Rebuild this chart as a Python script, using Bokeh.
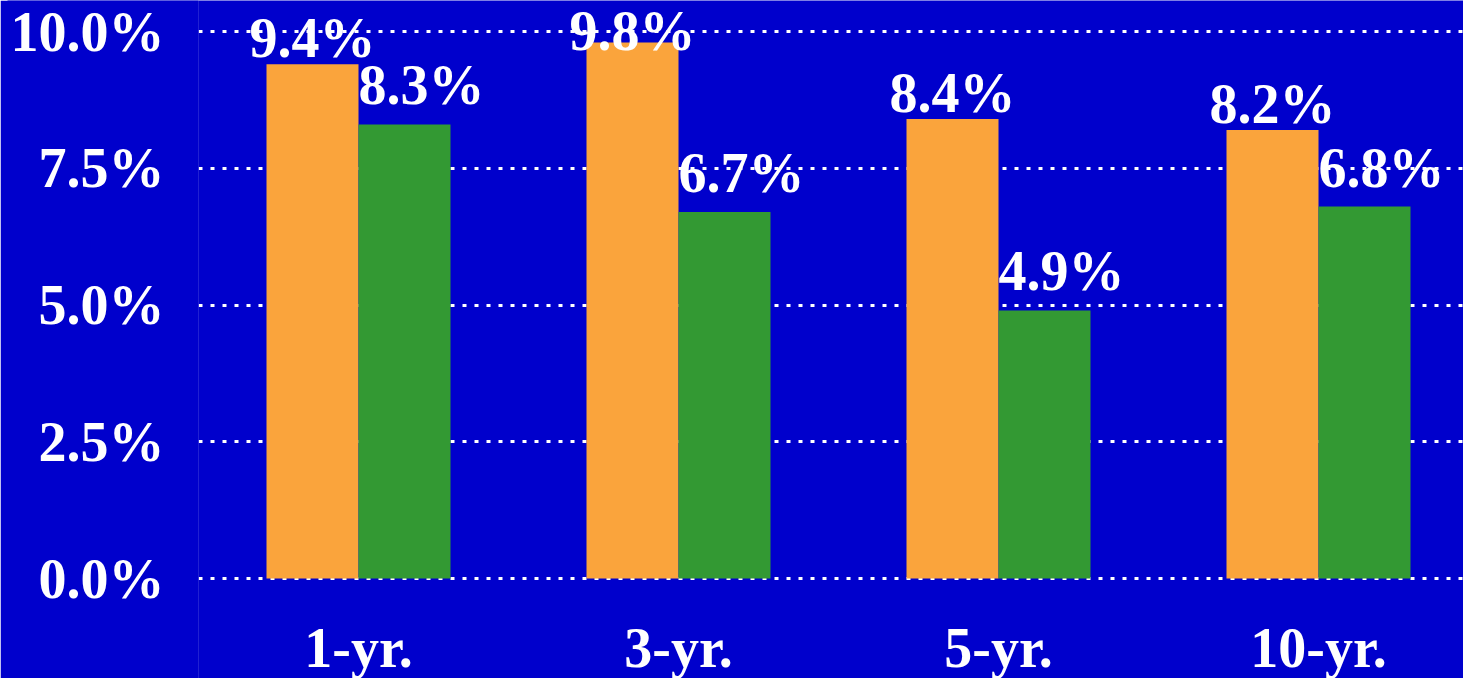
from bokeh.plotting import figure
from bokeh.models import ColumnDataSource, FixedTicker, Range1d
from bokeh.core.properties import value
from bokeh.embed import file_html
from bokeh.resources import INLINE

# ---- data ----
periods = ["1-yr.", "3-yr.", "5-yr.", "10-yr."]
series_orange = [9.4, 9.8, 8.4, 8.2]
series_green = [8.3, 6.7, 4.9, 6.8]
y_ticks = [0.0, 2.5, 5.0, 7.5, 10.0]
y_tick_labels = ["0.0%", "2.5%", "5.0%", "7.5%", "10.0%"]

BG = "#0000CC"
ORANGE = "#FAA43C"
GREEN = "#339933"
FONT = "Liberation Serif"
FS = 56
SHIFT = 17  # compensation for baseline rendering

W, H = 1463, 678
LEFT = 198
ZERO_Y = 578
PX_PER_UNIT = 54.7
frame_w = W - LEFT
x_end = frame_w / 320.0
y_end = ZERO_Y / PX_PER_UNIT
y_start = -(H - ZERO_Y) / PX_PER_UNIT

# label placement: outside end, kept inside the chart area at the top
GAP_O, GAP_G = 9, 22          # px above bar top
MIN_BASELINE = 47             # px from top: labels pushed down to stay visible


def label_y(vals, gap):
    top_limit = (ZERO_Y - MIN_BASELINE) / PX_PER_UNIT
    return [min(v + gap / PX_PER_UNIT, top_limit) for v in vals]


p = figure(width=W, height=H, output_backend="svg", toolbar_location=None,
           x_range=Range1d(0, x_end), y_range=Range1d(y_start, y_end),
           x_axis_location=None, min_border_left=LEFT, min_border_right=0,
           min_border_top=0, min_border_bottom=0)
p.background_fill_color = BG
p.border_fill_color = BG
p.outline_line_color = None

centers = [i + 0.5 for i in range(len(periods))]
bw = 0.2875
src = ColumnDataSource(dict(
    xo=[c - bw / 2 for c in centers],
    xg=[c + bw / 2 for c in centers],
    o=series_orange,
    g=series_green,
    yo=label_y(series_orange, GAP_O),
    yg=label_y(series_green, GAP_G),
    lo=[f"{v:.1f}%" for v in series_orange],
    lg=[f"{v:.1f}%" for v in series_green],
    c=centers,
    zero=[0] * len(centers),
    cat=periods,
))

p.vbar(x="xo", top="o", bottom=0, width=bw, source=src, fill_color=ORANGE, line_color=None)
p.vbar(x="xg", top="g", bottom=0, width=bw, source=src, fill_color=GREEN, line_color=None)

common = dict(text_color="white", text_font=value(FONT), text_font_style="bold",
              text_font_size=f"{FS}px", text_align="center", text_baseline="alphabetic")
p.text(x="xo", y="yo", text="lo", source=src, y_offset=-SHIFT, **common)
p.text(x="xg", y="yg", text="lg", source=src, x_offset=17, y_offset=-SHIFT, **common)
p.text(x="c", y="zero", text="cat", source=src, y_offset=86 - SHIFT, **common)

# y axis
ax = p.yaxis[0]
ax.ticker = FixedTicker(ticks=y_ticks)
ax.major_label_overrides = {t: l for t, l in zip(y_ticks, y_tick_labels)}
ax.axis_line_color = None
ax.major_tick_line_color = None
ax.minor_tick_line_color = None
ax.major_tick_out = 0
ax.major_tick_in = 0
ax.major_label_standoff = 34
ax.major_label_text_color = "white"
ax.major_label_text_font = FONT
ax.major_label_text_font_style = "bold"
ax.major_label_text_font_size = f"{FS}px"
ax.background_fill_color = BG

p.xgrid.grid_line_color = None
p.ygrid.ticker = FixedTicker(ticks=y_ticks)
p.ygrid.grid_line_color = "white"
p.ygrid.grid_line_width = 3
p.ygrid.grid_line_dash = "4 8"

open("out.html", "w").write(file_html(p, INLINE))
